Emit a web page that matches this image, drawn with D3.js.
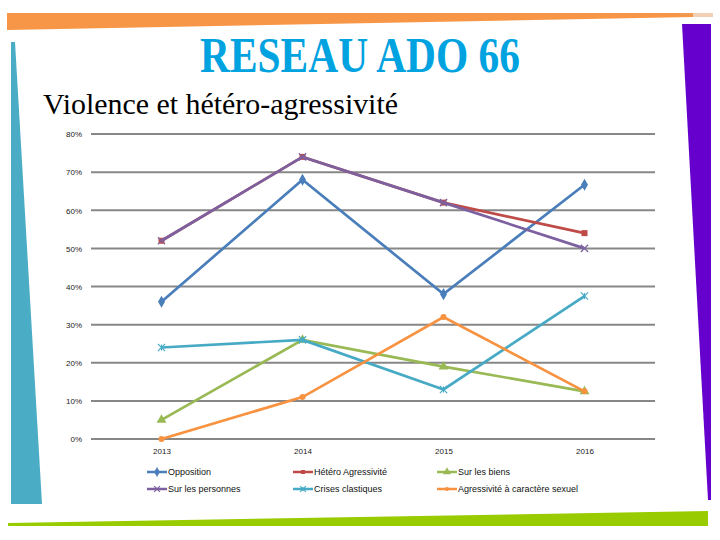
<!DOCTYPE html>
<html>
<head>
<meta charset="utf-8">
<script src="https://cdn.jsdelivr.net/npm/d3@7"></script>
<style>
  body { margin: 0; background: #fff; }
  svg { display: block; }
</style>
</head>
<body>
<div id="chart"></div>
<script>
// data
const years = ["2013", "2014", "2015", "2016"];
const seriesNames = ["Opposition", "Hétéro Agressivité", "Sur les biens", "Sur les personnes", "Crises clastiques", "Agressivité à caractère sexuel"];
const opposition = [36, 68, 38, 66.7];
const hetero = [52, 74, 62, 54];
const surBiens = [5, 26, 19, 12.5];
const surPersonnes = [52, 74, 62, 50];
const crises = [24, 26, 13, 37.5];
const sexuel = [0, 11, 32, 12.5];
const yTicks = [0, 10, 20, 30, 40, 50, 60, 70, 80];

const colors = ["#4A7EBB", "#BE4B48", "#98B954", "#7D60A0", "#46AAC5", "#F69240"];
const markers = ["diamond", "square", "triangle", "cross", "star", "circle"];
const allValues = [opposition, hetero, surBiens, surPersonnes, crises, sexuel];

const width = 720, height = 540;

const svg = d3.select("#chart")
    .append("svg")
    .attr("width", width)
    .attr("height", height);

// slide decorations
svg.append("polygon")
    .attr("points", "7,13 693,13 693,17 7,30")
    .attr("fill", "#F79646");
svg.append("line").attr("x1", 680).attr("x2", 713).attr("y1", 14).attr("y2", 14)
    .attr("stroke", "#E8A06A").attr("stroke-width", 1);
svg.append("line").attr("x1", 693).attr("x2", 713).attr("y1", 16).attr("y2", 16)
    .attr("stroke", "#E8A06A").attr("stroke-width", 1);
svg.append("polygon")
    .attr("points", "11,42 15,42 42,504 11,504")
    .attr("fill", "#4BACC6");
svg.append("polygon")
    .attr("points", "682,24 711,24 711,500 708,500")
    .attr("fill", "#6600CC");
svg.append("polygon")
    .attr("points", "8,523 708,511 708,526 8,526")
    .attr("fill", "#99CC00");

svg.append("text")
    .attr("x", 200).attr("y", 72)
    .attr("textLength", 320)
    .attr("lengthAdjust", "spacingAndGlyphs")
    .style("font-family", "Liberation Serif")
    .style("font-weight", "bold")
    .style("font-size", "50px")
    .style("fill", "#00A3E0")
    .text("RESEAU ADO 66");

svg.append("text")
    .attr("x", 43).attr("y", 114)
    .attr("textLength", 355)
    .attr("lengthAdjust", "spacingAndGlyphs")
    .style("font-family", "Liberation Serif")
    .style("font-size", "30px")
    .style("fill", "#000")
    .text("Violence et hétéro-agressivité");

// plot
const x = d3.scalePoint()
    .domain(years)
    .range([91, 655])
    .padding(0.5);

const y = d3.scaleLinear()
    .domain([0, 80])
    .range([439, 134]);

const g = svg.append("g");

g.selectAll(".grid")
    .data(yTicks)
    .enter().append("line")
    .attr("class", "grid")
    .attr("x1", 91).attr("x2", 655)
    .attr("y1", d => y(d)).attr("y2", d => y(d))
    .attr("stroke", "#878787")
    .attr("stroke-width", 2);

const yAxis = g.append("g")
    .attr("transform", "translate(82,0)")
    .call(d3.axisLeft(y).tickValues(yTicks).tickSize(0).tickPadding(0).tickFormat(d => d + "%"));
yAxis.select(".domain").remove();
yAxis.selectAll("text")
    .attr("dy", "0.35em")
    .style("font-family", "Liberation Sans")
    .style("font-size", "8px")
    .style("fill", "#222");

const xAxis = g.append("g")
    .attr("transform", "translate(0,447)")
    .call(d3.axisBottom(x).tickSize(0).tickPadding(0));
xAxis.select(".domain").remove();
xAxis.selectAll("text")
    .attr("dy", "0.9em")
    .style("font-family", "Liberation Sans")
    .style("font-size", "8px")
    .style("fill", "#222");

const line = d3.line()
    .x((d, i) => x(years[i]))
    .y(d => y(d));

function drawMarker(sel, type, color, size) {
    if (type === "diamond") {
        sel.append("path").attr("d", d3.symbol(d3.symbolDiamond, size * 7)())
            .attr("fill", color);
    } else if (type === "square") {
        sel.append("rect").attr("x", -size / 2).attr("y", -size / 2)
            .attr("width", size).attr("height", size).attr("fill", color);
    } else if (type === "triangle") {
        sel.append("path").attr("d", d3.symbol(d3.symbolTriangle, size * 7)())
            .attr("fill", color);
    } else if (type === "cross") {
        sel.append("path").attr("d", d3.symbol(d3.symbolX, size * 6)())
            .attr("fill", "none").attr("stroke", color).attr("stroke-width", 1.2);
    } else if (type === "star") {
        sel.append("path").attr("d", d3.symbol(d3.symbolX, size * 6)())
            .attr("fill", "none").attr("stroke", color).attr("stroke-width", 1.2);
        sel.append("line").attr("x1", 0).attr("x2", 0).attr("y1", -size / 2).attr("y2", size / 2)
            .attr("stroke", color).attr("stroke-width", 1.2);
    } else {
        sel.append("circle").attr("r", size / 2).attr("fill", color);
    }
}

allValues.forEach(function (vals, s) {
    g.append("path")
        .datum(vals)
        .attr("d", line)
        .attr("fill", "none")
        .attr("stroke", colors[s])
        .attr("stroke-width", 2.7);

    g.selectAll(".pt" + s)
        .data(vals)
        .enter().append("g")
        .attr("class", "pt" + s)
        .attr("transform", (d, i) => "translate(" + x(years[i]) + "," + y(d) + ")")
        .each(function () {
            drawMarker(d3.select(this), markers[s], colors[s], 6);
        });
});

// legend
const legendCols = [147, 293, 437];
const legendRows = [472, 489];
const legend = svg.append("g");
seriesNames.forEach(function (name, s) {
    let lx = legendCols[s % 3], ly = legendRows[Math.floor(s / 3)];
    let item = legend.append("g").attr("transform", "translate(" + lx + "," + ly + ")");
    item.append("line").attr("x1", 0).attr("x2", 20).attr("y1", 0).attr("y2", 0)
        .attr("stroke", colors[s]).attr("stroke-width", 2.5);
    let m = item.append("g").attr("transform", "translate(10,0)");
    drawMarker(m, markers[s], colors[s], 4);
    item.append("text")
        .attr("x", 21).attr("y", 0).attr("dy", "0.35em")
        .style("font-family", "Liberation Sans")
        .style("font-size", "9px")
        .style("fill", "#111")
        .text(name);
});
</script>
</body>
</html>
